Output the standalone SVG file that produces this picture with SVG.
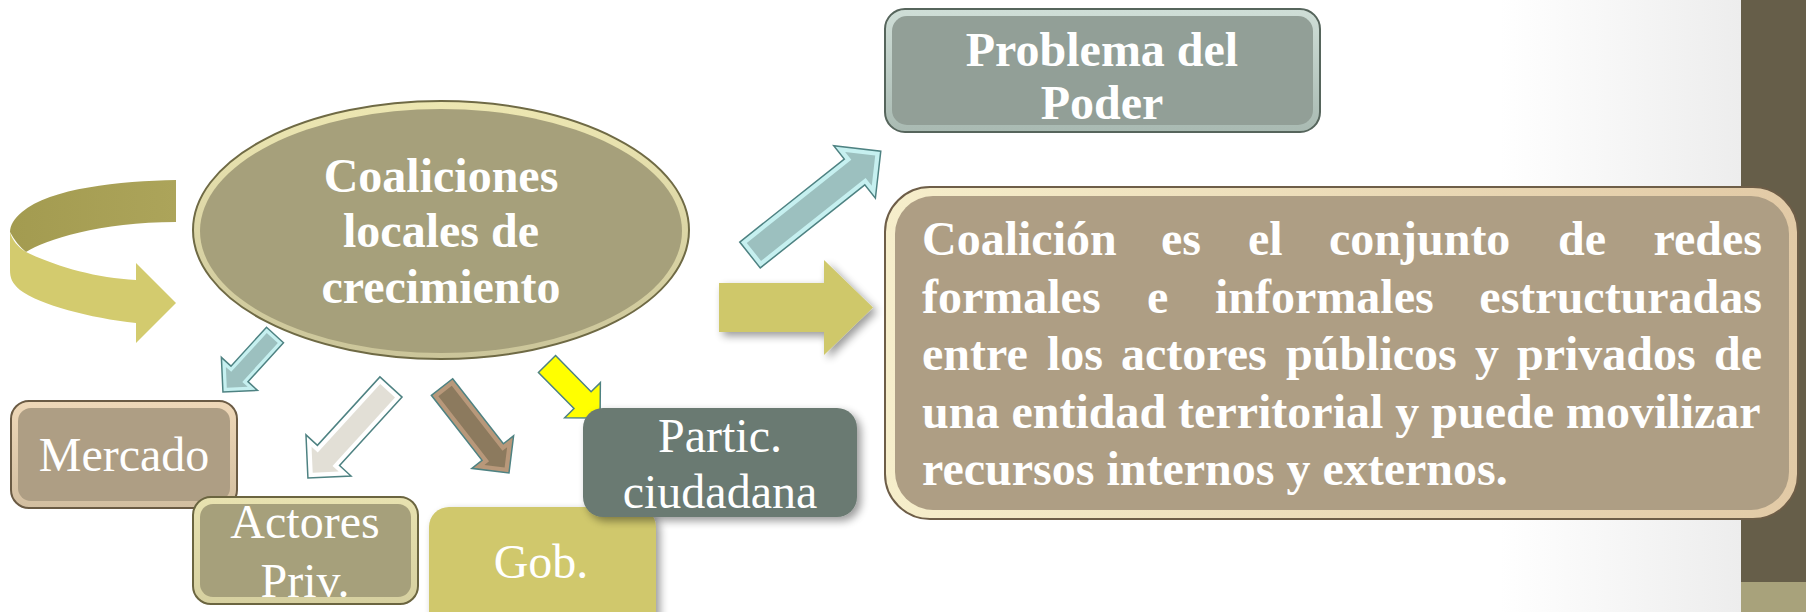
<svg xmlns="http://www.w3.org/2000/svg" width="1806" height="612" viewBox="0 0 1806 612">
<defs>
<style>
.t{font-family:"Liberation Serif","Times New Roman",serif;fill:#ffffff;font-size:48px}
.b{font-weight:bold}
.c{text-anchor:middle}
.e{text-anchor:end}
.ar{stroke:#4e8282;stroke-width:1.5;stroke-linejoin:miter}
</style>
<linearGradient id="bg" x1="0" x2="1" y1="0" y2="0"><stop offset="0" stop-color="#ffffff"/><stop offset="1" stop-color="#ededed"/></linearGradient>
<linearGradient id="gP" x1="0" x2="0" y1="0" y2="1"><stop offset="0" stop-color="#cfded7"/><stop offset="1" stop-color="#a9bab2"/></linearGradient>
<linearGradient id="gB" x1="0" x2="1" y1="0" y2="0"><stop offset="0" stop-color="#f6eecb"/><stop offset="1" stop-color="#e2caa6"/></linearGradient>
<linearGradient id="gM" x1="0" x2="0" y1="0" y2="1"><stop offset="0" stop-color="#efd8b8"/><stop offset="1" stop-color="#d2bea0"/></linearGradient>
<linearGradient id="gA" x1="0" x2="0" y1="0" y2="1"><stop offset="0" stop-color="#e8e2b0"/><stop offset="1" stop-color="#d6d0a0"/></linearGradient>
<linearGradient id="gE" x1="0" x2="0" y1="0" y2="1"><stop offset="0" stop-color="#ede7b2"/><stop offset="1" stop-color="#cbc59a"/></linearGradient>
<linearGradient id="gD" x1="1" x2="0" y1="0" y2="0"><stop offset="0" stop-color="#aca45a"/><stop offset="1" stop-color="#a39b50"/></linearGradient>
<filter id="sh" x="-20%" y="-20%" width="150%" height="150%"><feGaussianBlur in="SourceAlpha" stdDeviation="4"/><feOffset dx="4" dy="4"/><feComponentTransfer><feFuncA type="linear" slope="0.4"/></feComponentTransfer><feMerge><feMergeNode/><feMergeNode in="SourceGraphic"/></feMerge></filter>
</defs>

<g id="background">
<rect x="0" y="0" width="1806" height="612" fill="#ffffff"/>
<rect x="1500" y="0" width="241" height="612" fill="url(#bg)"/>
<rect x="1741" y="0" width="65" height="582" fill="#665e49"/>
<rect x="1741" y="582" width="65" height="30" fill="#a8a27b"/>
</g>

<g id="connectors">
<g id="loop-arrow">
<path d="M26,252 C55,266 95,278 136,280 L136,263 L176,303 L136,343 L136,323 C90,318 40,305 20,290 C12,283 10,278 10,270 L10,232 C12,240 18,247 26,252 Z" fill="#d3cb6e"/>
<path d="M176,180 C120,181 50,188 22,212 C14,219 10,225 10,232 C14,240 20,247 26,252 C45,240 100,222 176,222 Z" fill="url(#gD)"/>
</g>
<g id="arrow-main">
<path d="M719,283 L824,283 L824,260 L873,307.5 L824,355 L824,332 L719,332 Z" fill="#cfc86a" filter="url(#sh)"/>
</g>
<g id="arrow-poder" transform="translate(750,255) rotate(-38.45)">
<path class="ar" d="M0,-16.5 L133.5,-16.5 L133.5,-33.5 L167,0 L133.5,33.5 L133.5,16.5 L0,16.5 Z" fill="#c6f0f0"/>
<path d="M5,-11.5 L138.5,-11.5 L138.5,-21.4 L159.9,0 L138.5,21.4 L138.5,11.5 L5,11.5 Z" fill="#9cc0bf"/>
</g>
<g id="arrow-mercado" transform="translate(275,335) rotate(132.4)">
<path class="ar" d="M0,-11.5 L52.7,-11.5 L52.7,-24.5 L77.2,0 L52.7,24.5 L52.7,11.5 L0,11.5 Z" fill="#c6f0f0"/>
<path d="M4,-7.5 L56.7,-7.5 L56.7,-14.8 L71.5,0 L56.7,14.8 L56.7,7.5 L4,7.5 Z" fill="#9cc0bf"/>
</g>
<g id="arrow-actores" transform="translate(391,387) rotate(132.4)">
<path class="ar" d="M0,-15 L92.7,-15 L92.7,-30.5 L123.2,0 L92.7,30.5 L92.7,15 L0,15 Z" fill="#ffffff"/>
<path d="M5,-10 L97.7,-10 L97.7,-18.4 L116.1,0 L97.7,18.4 L97.7,10 L5,10 Z" fill="#e2dfd6"/>
</g>
<g id="arrow-gob" transform="translate(442,387) rotate(52.08)">
<path class="ar" d="M0,-13.5 L82.5,-13.5 L82.5,-26.5 L109,0 L82.5,26.5 L82.5,13.5 L0,13.5 Z" fill="#b8987a"/>
<path d="M5,-8.5 L87.5,-8.5 L87.5,-14.4 L101.9,0 L87.5,14.4 L87.5,8.5 L5,8.5 Z" fill="#8c7a5e"/>
</g>
<g id="arrow-partic" transform="translate(547,364) rotate(45.5)">
<path class="ar" d="M0,-12 L50.7,-12 L50.7,-25 L75.7,0 L50.7,25 L50.7,12 L0,12 Z" fill="#ffff00" stroke="#5f8a8a"/>
</g>
</g>

<g id="node-coaliciones">
<ellipse cx="441" cy="230" rx="248" ry="129" fill="url(#gE)" stroke="#6f6a45" stroke-width="2"/>
<ellipse cx="441" cy="231" rx="241" ry="122" fill="#a6a07b"/>
<text class="t b c" x="441" y="192">Coaliciones</text>
<text class="t b c" x="441" y="247">locales de</text>
<text class="t b c" x="441" y="303">crecimiento</text>
</g>

<g id="node-poder">
<rect x="885" y="9" width="435" height="123" rx="20" fill="url(#gP)" stroke="#56655c" stroke-width="2"/>
<rect x="892" y="16" width="421" height="109" rx="15" fill="#929f97"/>
<text class="t b c" x="1102" y="66">Problema del</text>
<text class="t b c" x="1102" y="119">Poder</text>
</g>

<g id="node-definicion">
<rect x="885" y="187" width="913" height="332" rx="45" fill="url(#gB)" stroke="#6e5e48" stroke-width="2"/>
<rect x="895" y="196" width="894" height="314" rx="38" fill="#ae9e84"/>
<text class="t b" y="255"><tspan x="922">Coalición</tspan><tspan x="1161">es</tspan><tspan x="1248">el</tspan><tspan x="1329">conjunto</tspan><tspan x="1558">de</tspan></text>
<text class="t b e" x="1762" y="255">redes</text>
<text class="t b" y="313"><tspan x="922">formales</tspan><tspan x="1147">e</tspan><tspan x="1215">informales</tspan></text>
<text class="t b e" x="1762" y="313">estructuradas</text>
<text class="t b" y="370"><tspan x="922">entre</tspan><tspan x="1047">los</tspan><tspan x="1121">actores</tspan><tspan x="1286">públicos</tspan><tspan x="1475">y</tspan><tspan x="1517">privados</tspan></text>
<text class="t b e" x="1762" y="370">de</text>
<text class="t b" x="922" y="428">una entidad territorial y puede movilizar</text>
<text class="t b" x="922" y="485">recursos internos y externos.</text>
</g>

<g id="node-mercado">
<rect x="11" y="401" width="226" height="107" rx="18" fill="url(#gM)" stroke="#6b5b44" stroke-width="2"/>
<rect x="18" y="408" width="212" height="93" rx="13" fill="#ae9e84"/>
<text class="t c" x="124" y="471">Mercado</text>
</g>

<g id="node-actores">
<rect x="193" y="497" width="225" height="107" rx="18" fill="url(#gA)" stroke="#6b6540" stroke-width="2"/>
<rect x="200" y="504" width="211" height="93" rx="13" fill="#a6a07b"/>
<text class="t c" x="305" y="538">Actores</text>
<text class="t c" x="305" y="597">Priv.</text>
</g>

<g id="node-gob">
<rect x="429" y="507" width="227" height="130" rx="20" fill="#d0c86c" filter="url(#sh)"/>
<text class="t c" x="541" y="578">Gob.</text>
</g>

<g id="node-partic">
<rect x="583" y="408" width="274" height="109" rx="20" fill="#6b7a72" filter="url(#sh)"/>
<text class="t c" x="720" y="452">Partic.</text>
<text class="t c" x="720" y="508">ciudadana</text>
</g>
</svg>
